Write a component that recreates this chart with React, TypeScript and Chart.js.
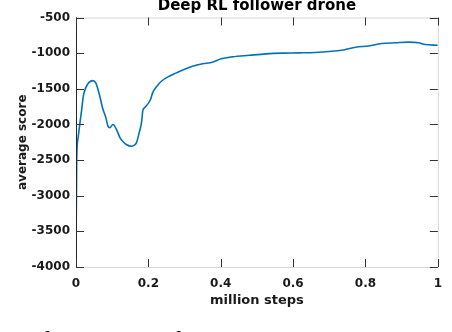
import React, { useEffect, useRef } from "react";
import { Chart, registerables } from "chart.js";

Chart.register(...registerables);

const chartTitle = "Deep RL follower drone";
const xLabel = "million steps";
const yLabel = "average score";
const caption = "Performance of SAC in the same task and the";

const xTickValues = [0, 0.2, 0.4, 0.6, 0.8, 1];
const yTickValues = [-4000, -3500, -3000, -2500, -2000, -1500, -1000, -500];

const steps = [
  0, 0.002, 0.0055, 0.011, 0.0157, 0.02, 0.0275, 0.036, 0.046, 0.055,
  0.066, 0.074, 0.0826, 0.088, 0.0936, 0.102, 0.112, 0.121, 0.129, 0.14,
  0.153, 0.16, 0.167, 0.173, 0.181, 0.185, 0.19, 0.206, 0.212, 0.226,
  0.236, 0.259, 0.277, 0.3, 0.322, 0.35, 0.377, 0.401, 0.432, 0.479,
  0.525, 0.57, 0.617, 0.66, 0.707, 0.74, 0.773, 0.809, 0.845, 0.883,
  0.919, 0.947, 0.965, 1.0,
];
const scores = [
  -3800, -2494, -2200, -1974, -1791, -1609, -1480, -1410, -1385, -1420,
  -1609, -1780, -1905, -2020, -2045, -2002, -2072, -2180, -2236, -2285,
  -2307, -2295, -2259, -2150, -1974, -1800, -1764, -1651, -1553, -1450,
  -1394, -1320, -1277, -1225, -1184, -1150, -1128, -1080, -1052, -1030,
  -1010, -1000, -996, -990, -973, -955, -917, -900, -865, -855,
  -846, -855, -879, -889,
];

const FONT = "'DejaVu Sans', sans-serif";

const framePlugin = {
  id: "frame",
  afterDraw(chart: any) {
    const { ctx, chartArea } = chart;
    const { left, right, top, bottom } = chartArea;
    const xs = chart.scales.x;
    const ys = chart.scales.y;
    ctx.save();
    ctx.lineWidth = 1;
    ctx.strokeStyle = "#d6d6d6";
    ctx.beginPath();
    ctx.moveTo(left, top + 0.5);
    ctx.lineTo(right + 0.5, top + 0.5);
    ctx.lineTo(right + 0.5, bottom + 0.5);
    ctx.lineTo(left, bottom + 0.5);
    ctx.stroke();
    ctx.strokeStyle = "#262626";
    ctx.beginPath();
    ctx.moveTo(left + 0.5, top);
    ctx.lineTo(left + 0.5, bottom + 1);
    ctx.stroke();
    const tl = 8;
    ctx.strokeStyle = "#333333";
    ctx.beginPath();
    for (const v of xTickValues) {
      const px = Math.round(xs.getPixelForValue(v)) + 0.5;
      ctx.moveTo(px, bottom);
      ctx.lineTo(px, bottom - tl);
      ctx.moveTo(px, top);
      ctx.lineTo(px, top + tl);
    }
    for (const v of yTickValues) {
      const py = Math.round(ys.getPixelForValue(v)) + 0.5;
      ctx.moveTo(left, py);
      ctx.lineTo(left + tl, py);
      ctx.moveTo(right, py);
      ctx.lineTo(right - tl, py);
    }
    ctx.stroke();
    ctx.fillStyle = "#000000";
    ctx.font = `bold 15px ${FONT}`;
    ctx.textAlign = "center";
    ctx.textBaseline = "alphabetic";
    ctx.fillText(chartTitle, (left + right) / 2, 10);
    ctx.restore();
  },
};

export default function App() {
  const ref = useRef<HTMLCanvasElement | null>(null);

  useEffect(() => {
    if (!ref.current) return;
    const data = steps.map((s, i) => ({ x: s, y: scores[i] }));
    const chart = new Chart(ref.current, {
      type: "line",
      data: {
        datasets: [
          {
            data,
            borderColor: "#0072BD",
            borderWidth: 1.6,
            pointRadius: 0,
            fill: false,
            cubicInterpolationMode: "monotone",
          },
        ],
      },
      options: {
        animation: false,
        responsive: false,
        devicePixelRatio: 1,
        layout: { padding: { left: 0, right: 13, top: 17.5, bottom: 0 } },
        plugins: {
          legend: { display: false },
          title: { display: false },
          tooltip: { enabled: false },
        },
        scales: {
          x: {
            type: "linear",
            min: 0,
            max: 1,
            border: { display: false },
            grid: { display: false, drawTicks: false },
            afterFit: (s: any) => {
              s.height = 65;
            },
            afterBuildTicks: (s: any) => {
              s.ticks = xTickValues.map((v) => ({ value: v }));
            },
            ticks: {
              padding: 10,
              color: "#1a1a1a",
              font: { family: FONT, size: 12, weight: "bold" },
              maxRotation: 0,
              callback: (v: any) => String(Math.round(Number(v) * 10) / 10),
            },
            title: {
              display: true,
              text: xLabel,
              color: "#1a1a1a",
              font: { family: FONT, size: 13, weight: "bold" },
              padding: { top: 0, bottom: 24 },
            },
          },
          y: {
            min: -4000,
            max: -500,
            border: { display: false },
            grid: { display: false, drawTicks: false },
            afterFit: (s: any) => {
              s.width = 76;
            },
            afterBuildTicks: (s: any) => {
              s.ticks = yTickValues.map((v) => ({ value: v }));
            },
            ticks: {
              padding: 6,
              color: "#1a1a1a",
              font: { family: FONT, size: 12, weight: "bold" },
              callback: (v: any) => String(v),
            },
            title: {
              display: true,
              text: yLabel,
              color: "#1a1a1a",
              font: { family: FONT, size: 12, weight: "bold" },
              padding: { top: 16, bottom: 0 },
            },
          },
        },
      },
      plugins: [framePlugin],
    } as any);
    return () => chart.destroy();
  }, []);

  return (
    <div
      style={{
        position: "absolute",
        left: 0,
        top: 0,
        width: 452,
        height: 332,
        overflow: "hidden",
        background: "#ffffff",
      }}
    >
      <canvas ref={ref} width={452} height={332} style={{ display: "block" }} />
      <div
        style={{
          position: "absolute",
          left: 1,
          top: 328,
          fontFamily: "'Liberation Serif', serif",
          fontSize: 29,
          lineHeight: "29px",
          whiteSpace: "nowrap",
          color: "#000",
        }}
      >
        {caption}
      </div>
    </div>
  );
}
